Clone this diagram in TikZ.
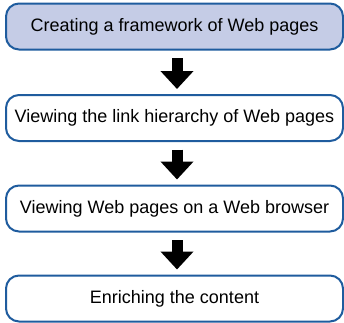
\documentclass[tikz,border=0pt]{standalone}
\usepackage{fontspec}
\setmainfont{Liberation Sans}
\usetikzlibrary{arrows.meta}
\definecolor{boxblue}{HTML}{1F5C9E}
\definecolor{boxfill}{HTML}{C5CCE6}
\tikzset{
  stepbox/.style={draw=boxblue, line width=2pt, rounded corners=13pt, minimum width=337pt, minimum height=46pt, inner sep=0pt, font=\fontsize{18}{21}\selectfont, fill=white},
  bigarrow/.style={draw=black, line width=11pt, -{Triangle[width=32pt,length=18pt]}, shorten <=7.5pt, shorten >=5pt}
}
\begin{document}
\begin{tikzpicture}[x=1pt,y=-1pt]
\useasboundingbox (0,0) rectangle (344,322);
\node[stepbox, fill=boxfill] (a) at (174.5,26.5) {Creating a framework of Web pages};
\node[stepbox] (b) at (174.5,118) {Viewing the link hierarchy of Web pages};
\node[stepbox] (c) at (174.5,208.5) {Viewing Web pages on a Web browser};
\node[stepbox] (d) at (174.5,298.5) {Enriching the content};
\foreach \u/\v in {a/b,b/c,c/d}{
  \draw[bigarrow] ([xshift=2.5pt]\u.south) -- ([xshift=2.5pt]\v.north);
}
\end{tikzpicture}
\end{document}
